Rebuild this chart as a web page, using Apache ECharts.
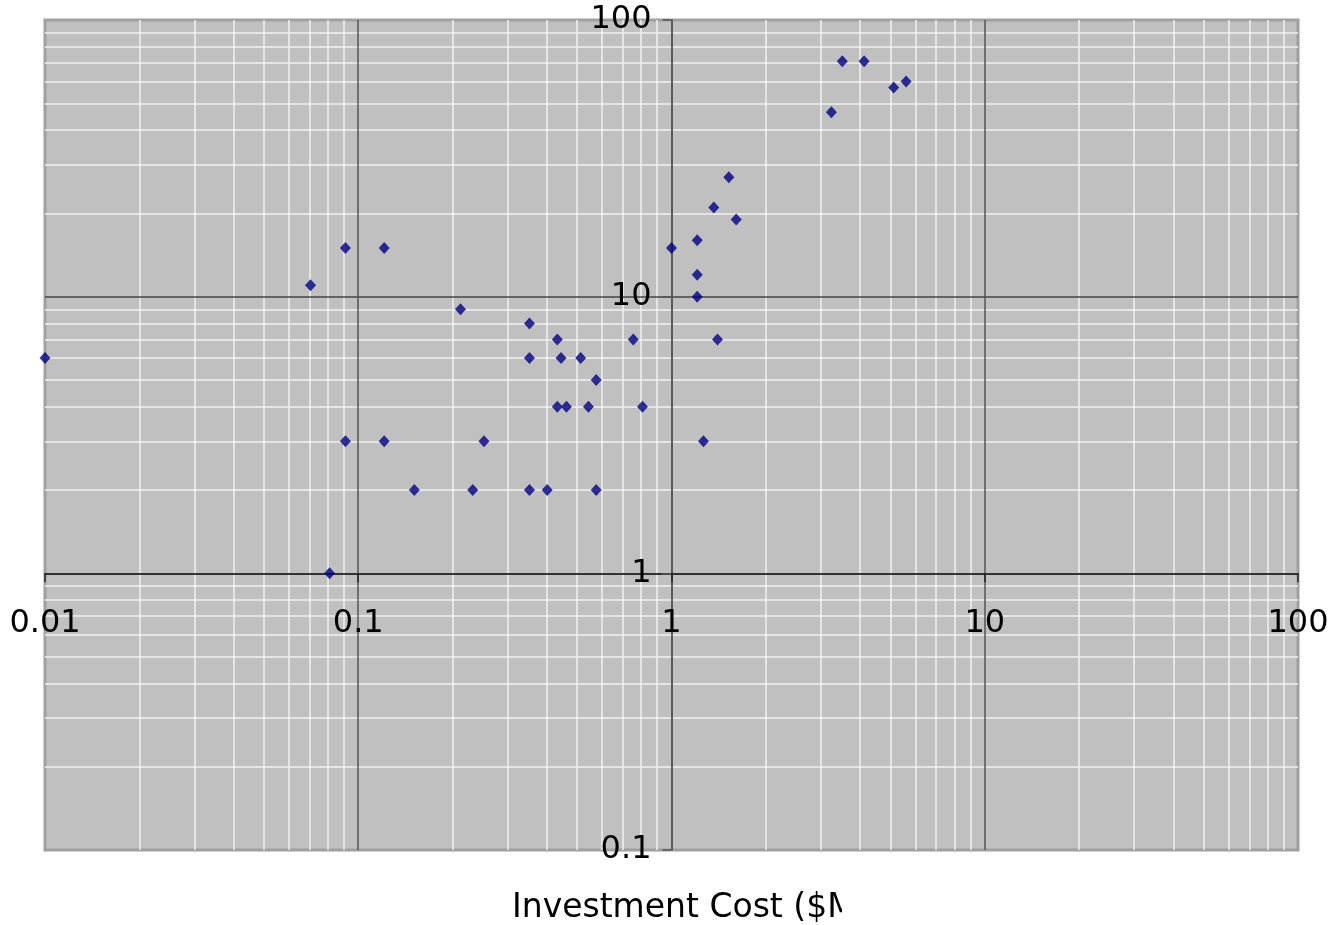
<!DOCTYPE html>
<html><head><meta charset="utf-8">
<script src="https://cdn.jsdelivr.net/npm/echarts@6/dist/echarts.min.js"></script>
<style>html,body{margin:0;padding:0;background:#fff}#chart{width:1337px;height:925px}</style>
</head><body><div id="chart"></div>
<script>
// ---- data ----
const investmentCost = [0.01, 0.0704, 0.091, 0.121, 0.212, 0.352, 0.432, 0.352, 0.444, 0.513, 0.575,
  0.432, 0.462, 0.543, 0.808, 0.755, 0.091, 0.121, 0.252, 0.151, 0.232, 0.352, 0.401, 0.575, 0.081,
  1.0, 1.208, 1.208, 1.208, 1.402, 1.265, 1.365, 1.524, 1.609, 3.24, 3.51, 4.12, 5.12, 5.61];
const yValues = [6, 11, 15, 15, 9, 8, 7, 6, 6, 6, 5,
  4, 4, 4, 4, 7, 3, 3, 3, 2, 2, 2, 2, 2, 1,
  15, 16, 12, 10, 7, 3, 21, 27, 19, 46.4, 71, 71, 57, 60];
const xTickLabels = ['0.01', '0.1', '1', '10', '100'];
const yTickLabels = ['0.1', '1', '10', '100'];
const axisTitle = 'Investment Cost ($M';

const X_MIN = 0.01, X_MAX = 100, Y_MIN = 0.1, Y_MAX = 100;
const minorMults = [2, 3, 4, 5, 6, 7, 8, 9];
function minorValues(lo, hi) {
  const out = [];
  for (let d = lo; d < hi; d *= 10) minorMults.forEach(m => out.push(+(d * m).toPrecision(6)));
  return out;
}
const xMinor = minorValues(X_MIN, X_MAX);
const yMinor = minorValues(Y_MIN, Y_MAX);

const G = { left: 45, top: 20, width: 1253, height: 830 };
const decX = Math.log10(X_MAX / X_MIN), decY = Math.log10(Y_MAX / Y_MIN);
// put x axis at y = 1 and y axis at x = 1
const xAxisOffset = -G.height * Math.log10(1 / Y_MIN) / decY;
const yAxisOffset = -G.width * Math.log10(1 / X_MIN) / decX;

const FONT = 'DejaVu Sans';
const chart = echarts.init(document.getElementById('chart'), null, { renderer: 'canvas' });
chart.setOption({
  animation: false,
  grid: Object.assign({ show: true, backgroundColor: '#c0c0c0', borderColor: '#a0a0a0', borderWidth: 3, containLabel: false }, G),
  xAxis: {
    type: 'log', logBase: 10, min: X_MIN, max: X_MAX, position: 'bottom', offset: xAxisOffset, z: 2,
    axisLine: { show: true, onZero: false, lineStyle: { color: '#222', width: 1.5 } },
    axisTick: { show: true, inside: false, length: 9, lineStyle: { color: '#222', width: 1.5 } },
    axisLabel: { fontFamily: FONT, fontSize: 32, color: '#000', margin: 34,
      formatter: (v) => xTickLabels[Math.round(Math.log10(v / X_MIN))] },
    splitLine: { show: true, showMinLine: false, showMaxLine: false, lineStyle: { color: '#555', width: 1.5 } },
    minorTick: { show: false }, minorSplitLine: { show: false }
  },
  yAxis: {
    type: 'log', logBase: 10, min: Y_MIN, max: Y_MAX, position: 'left', offset: yAxisOffset, z: 2,
    axisLine: { show: true, onZero: false, lineStyle: { color: '#555', width: 1.5 } },
    axisTick: { show: true, inside: false, length: 9, lineStyle: { color: '#555', width: 1.5 } },
    axisLabel: { fontFamily: FONT, fontSize: 32, color: '#000', margin: 20, padding: [4, 0, 0, 0],
      formatter: (v) => yTickLabels[Math.round(Math.log10(v / Y_MIN))] },
    splitLine: { show: true, showMinLine: false, showMaxLine: false, lineStyle: { color: '#444', width: 1.5 } },
    minorTick: { show: false }, minorSplitLine: { show: false }
  },
  series: [
    {
      type: 'scatter', data: [], z: 1, silent: true,
      markLine: {
        z: 1, silent: true, symbol: ['none', 'none'], label: { show: false },
        lineStyle: { color: '#f2f2f2', width: 1.5, type: 'solid' },
        emphasis: { disabled: true },
        data: xMinor.map(v => ({ xAxis: v })).concat(yMinor.map(v => ({ yAxis: v })))
      }
    },
    {
      type: 'scatter', z: 3, symbol: 'diamond', symbolSize: [11, 12],
      itemStyle: { color: '#000080' },
      data: investmentCost.map((x, i) => [x, yValues[i]])
    }
  ],
  graphic: [
    { type: 'text', left: 512, top: 892, z: 10,
      style: { text: axisTitle, font: '33px "DejaVu Sans"', fill: '#000' } },
    { type: 'rect', shape: { x: 842, y: 880, width: 120, height: 45 }, style: { fill: '#fff' }, z: 11 }
  ]
});
</script>
</body></html>
